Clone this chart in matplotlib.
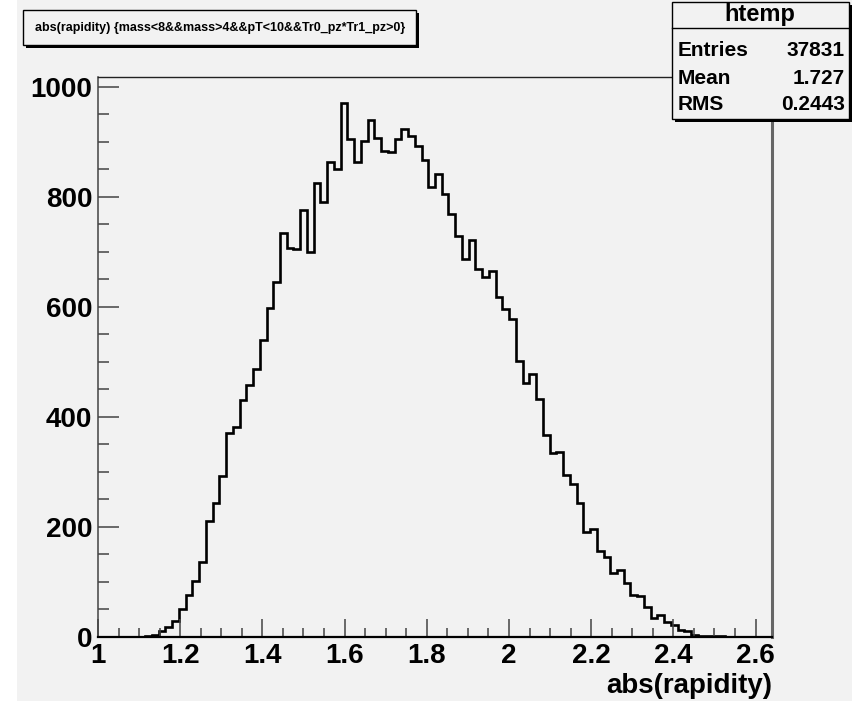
import numpy as np
import matplotlib
matplotlib.use("Agg")
import matplotlib.pyplot as plt
from matplotlib.patches import Rectangle
from matplotlib.ticker import MultipleLocator, FixedLocator

# histogram htemp: abs(rapidity), 100 bins from 1 to 2.64
x_min = 1.0
x_max = 2.64
n_bins = 100
counts = [0, 0, 0, 0, 0, 0, 0, 1,
          4, 11, 18, 29, 50, 76, 102, 137, 210, 243, 293, 370, 382, 431, 459, 487,
          540, 598, 645, 734, 708, 706, 776, 699, 826, 790, 864, 850, 970, 906, 864,
          902, 939, 908, 884, 882, 905, 924, 910, 893, 867, 818, 841, 805, 769, 729, 688, 721,
          669, 655, 666, 618, 596, 578, 501, 462, 479, 433, 367, 335, 337, 294,
          279, 244, 191, 196, 157, 146, 116, 121, 99, 76, 75, 54, 34, 40, 27, 22, 13, 10, 4, 2, 2, 1, 2,
          0, 0, 0, 0, 0, 0, 0]

x_ticks = [1.0, 1.2, 1.4, 1.6, 1.8, 2.0, 2.2, 2.4, 2.6]
x_tick_labels = ["1", "1.2", "1.4", "1.6", "1.8", "2", "2.2", "2.4", "2.6"]
y_ticks = [0, 200, 400, 600, 800, 1000]

title = "abs(rapidity) {mass<8&&mass>4&&pT<10&&Tr0_pz*Tr1_pz>0}"
stats_name = "htemp"
stats_rows = [("Entries", "37831"), ("Mean", "1.727"), ("RMS", "0.2443")]

W, H = 852, 701
bg = "#f2f2f2"
plt.rcParams["font.family"] = ["Liberation Sans", "DejaVu Sans"]
plt.rcParams["font.weight"] = "bold"

fig = plt.figure(figsize=(W / 100, H / 100), dpi=100, facecolor=bg)


def fx(px):
    return px / W


def fy(py):
    return 1 - py / H


# white strip on the left of the canvas
fig.patches.append(Rectangle((0, 0), fx(17), 1, transform=fig.transFigure,
                             facecolor="white", edgecolor="none", zorder=-5))

ax = fig.add_axes([fx(98), fy(637), fx(772 - 98), fy(77) - fy(637)])
ax.set_facecolor(bg)

edges = np.linspace(x_min, x_max, n_bins + 1)
ax.stairs(counts, edges, color="black", linewidth=1.9, baseline=0)

ax.set_xlim(x_min, x_max)
ax.set_ylim(0, 1018)

ax.xaxis.set_major_locator(FixedLocator(x_ticks))
ax.set_xticklabels(x_tick_labels)
ax.xaxis.set_minor_locator(MultipleLocator(0.05))
ax.yaxis.set_major_locator(FixedLocator(y_ticks))
ax.yaxis.set_minor_locator(MultipleLocator(50))

ax.tick_params(axis="x", which="major", direction="in", length=13, width=1.1,
               color="#444444", labelsize=20, pad=4, top=False)
ax.tick_params(axis="x", which="minor", direction="in", length=6.5, width=1.1,
               color="#444444", top=False)
ax.tick_params(axis="y", which="major", direction="in", length=15, width=1.1,
               color="#444444", labelsize=20, pad=4, right=False)
ax.tick_params(axis="y", which="minor", direction="in", length=8, width=1.1,
               color="#444444", right=False)

ax.spines["bottom"].set_color("black")
ax.spines["bottom"].set_linewidth(1.6)
ax.spines["left"].set_color("#444444")
ax.spines["left"].set_linewidth(1.1)
ax.spines["top"].set_color("#222222")
ax.spines["top"].set_linewidth(1.0)
ax.spines["right"].set_color("#666666")
ax.spines["right"].set_linewidth(2.2)

fig.text(fx(772), fy(686), "abs(rapidity)", ha="right", va="center",
         fontsize=20, fontweight="bold")


def box(x0, y0, x1, y1):
    # ROOT style pave with a dark shadow on the right and bottom
    fig.patches.append(Rectangle((fx(x0 + 3), fy(y1 + 3)), fx(x1 - x0), fy(y0) - fy(y1),
                                 transform=fig.transFigure, facecolor="black",
                                 edgecolor="none", zorder=5))
    fig.patches.append(Rectangle((fx(x0), fy(y1)), fx(x1 - x0), fy(y0) - fy(y1),
                                 transform=fig.transFigure, facecolor=bg,
                                 edgecolor="black", linewidth=1.0, zorder=6))


box(23, 10, 416, 45)
fig.text(fx(220), fy(28), title, ha="center", va="center", fontsize=9,
         fontweight="bold", zorder=7)

box(672, 2, 849, 119)
fig.lines.append(plt.Line2D([fx(672), fx(849)], [fy(28), fy(28)],
                            transform=fig.transFigure, color="black",
                            linewidth=1.0, zorder=7))
fig.text(fx(760), fy(15), stats_name, ha="center", va="center", fontsize=17,
         fontweight="bold", zorder=7)
for i, (k, v) in enumerate(stats_rows):
    yy = 51 + i * 27
    fig.text(fx(678), fy(yy), k, ha="left", va="center", fontsize=15,
             fontweight="bold", zorder=7)
    fig.text(fx(845), fy(yy), v, ha="right", va="center", fontsize=15,
             fontweight="bold", zorder=7)

fig.savefig("out.png", dpi=100, facecolor=bg)
